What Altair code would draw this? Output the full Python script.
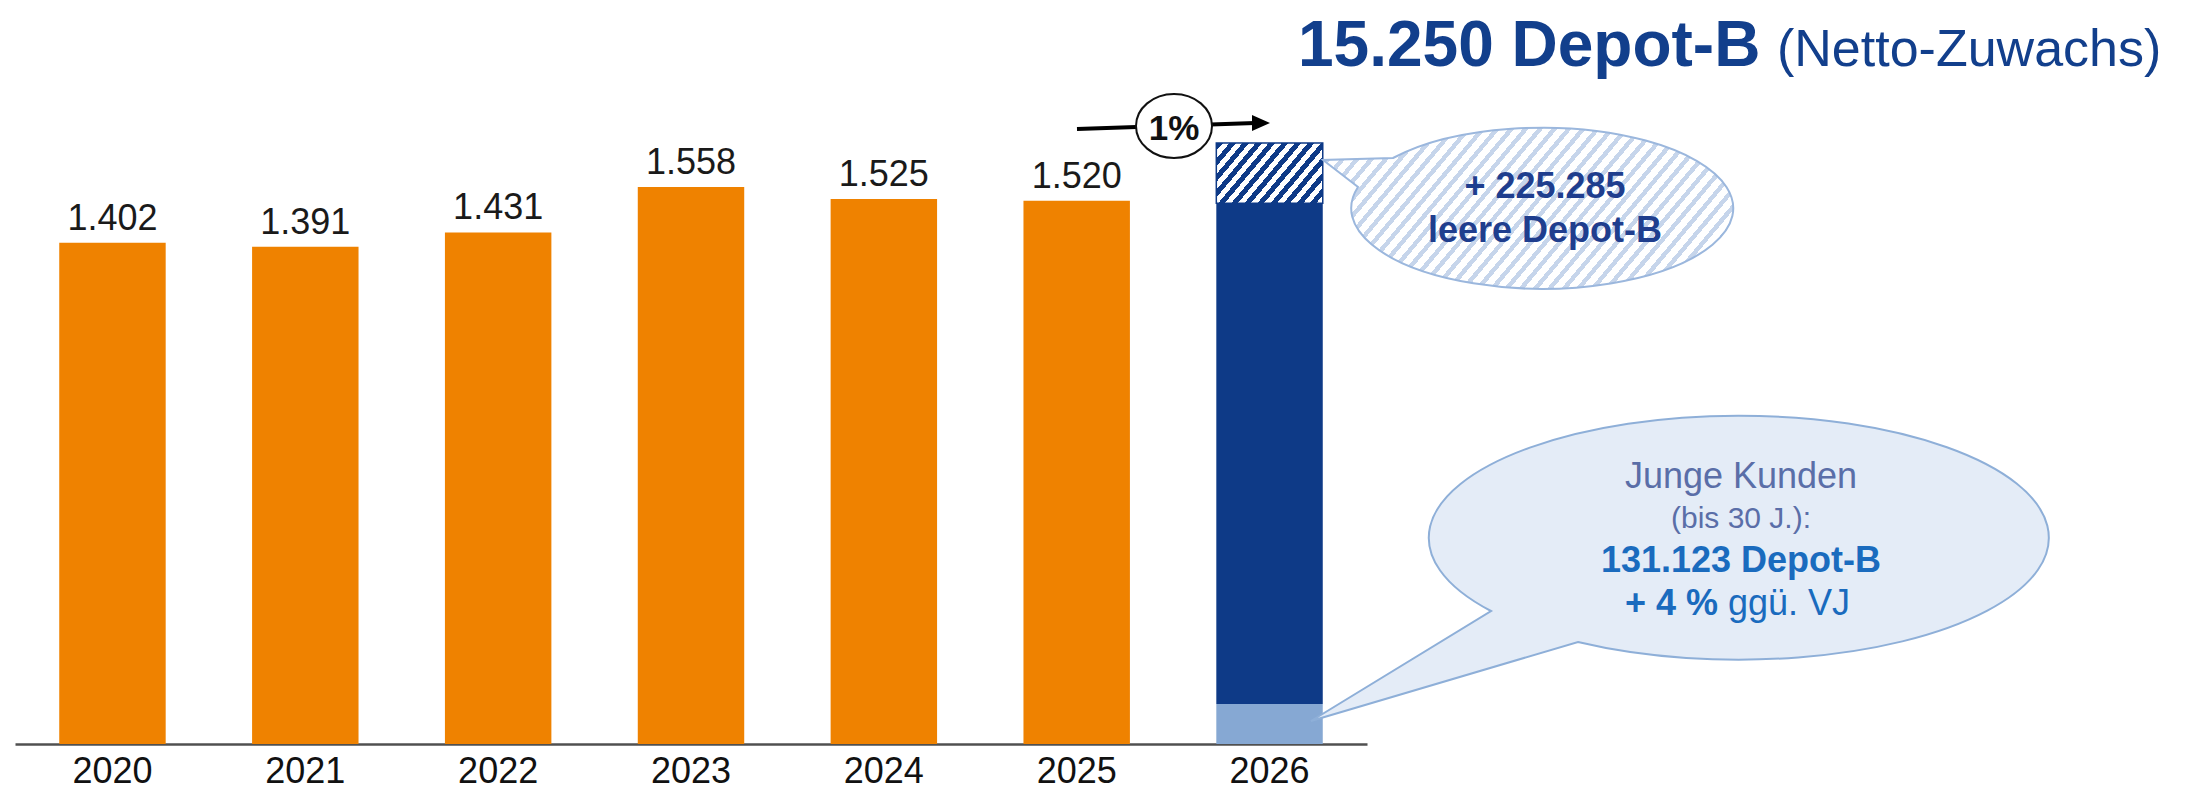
import altair as alt
import pandas as pd

# ---------------- data ----------------
years = ["2020", "2021", "2022", "2023", "2024", "2025", "2026"]
bar_years = ["2020", "2021", "2022", "2023", "2024", "2025"]
bar_values = [1402, 1391, 1431, 1558, 1525, 1520]
bar_labels = ["1.402", "1.391", "1.431", "1.558", "1.525", "1.520"]

seg_year = "2026"
seg_names = ["Junge Kunden", "Depot-B", "leere Depot-B"]
seg_values = [112, 1401, 168]

title_main = "15.250 Depot-B"
title_sub = "(Netto-Zuwachs)"
growth_label = "1%"
upper_lines = ["+ 225.285", "leere Depot-B"]
lower_lines = ["Junge Kunden", "(bis 30 J.):", "131.123 Depot-B"]
lower_last_bold = "+ 4 %"
lower_last_regular = "ggü. VJ"

# ---------------- styles ----------------
FONT = "Liberation Sans, Arial, Helvetica, sans-serif"
ORANGE = "#EF8200"
DARK = "#0E3A87"
LIGHT = "#86A8D3"
TITLE_BLUE = "#123F8C"
UP_TXT = "#1F3E8E"
SLATE = "#5A6EA8"
BRIGHT = "#1A6BBE"

bars = pd.DataFrame({"year": bar_years, "value": bar_values, "label": bar_labels})
lo, hi, acc = [], [], 0
for v in seg_values:
    lo.append(acc)
    acc += v
    hi.append(acc)
segs = pd.DataFrame({"year": [seg_year] * 3, "name": seg_names, "lo": lo, "hi": hi})
one = pd.DataFrame({"a": [0]})

xscale = alt.Scale(domain=years, paddingInner=0.448, paddingOuter=0.2294)
yscale = alt.Scale(domain=[0, 2059])
xaxis = alt.Axis(title=None, labelFont=FONT, labelFontSize=36, labelColor="#111111",
                 labelPadding=10, ticks=False, tickSize=0, domainColor="#505050",
                 domainWidth=2.5, grid=False, labelAngle=0)
X = alt.X("year:N", scale=xscale, axis=xaxis)


def stripes(c1, c2, n, frac):
    stops = []
    for i in range(n):
        a = round(i / n, 5)
        b = round((i + frac) / n, 5)
        c = round((i + 1) / n, 5)
        stops += [{"offset": a, "color": c1}, {"offset": b, "color": c1},
                  {"offset": b, "color": c2}, {"offset": c, "color": c2}]
    return stops


bar_hatch = {"gradient": "linear", "x1": 0, "y1": 0, "x2": 1.2036, "y2": 0.570,
             "stops": stripes(DARK, "#FFFFFF", 12, 0.5)}
bubble_hatch = {"gradient": "linear", "x1": 0, "y1": 0, "x2": 1.199, "y2": 0.394,
                "stops": stripes("#C6D5EB", "#FFFFFF", 38, 0.4)}

# shapes (pixel units, symbol size 4 -> scale 1)
UPPER_BUBBLE = "M -151 -49.5 A 191 80.5 0 1 1 -186 -20.5 L -221 -47.5 Z"
LOWER_BUBBLE = "M -249 74 A 310 122 0 1 1 -162 105 L -429 184 Z"
RING = "M -38 0 A 38 32 0 1 1 38 0 A 38 32 0 1 1 -38 0 Z"
HEAD = "M -18 -8 L 0 0 L -18 8 Z"

# ---------------- layers ----------------
orange = alt.Chart(bars).mark_bar(color=ORANGE, opacity=1).encode(
    x=X, y=alt.Y("value:Q", scale=yscale, axis=None))

labels = alt.Chart(bars).mark_text(dy=-13, baseline="alphabetic", fontSize=36, font=FONT,
                                   color="#1a1a1a").encode(
    x=X, y=alt.Y("value:Q", scale=yscale, axis=None), text="label:N")

stack = alt.Chart(segs).transform_filter(
    alt.FieldOneOfPredicate(field="name", oneOf=seg_names[:2])
).mark_bar(opacity=1).encode(
    x=X, y=alt.Y("lo:Q", scale=yscale, axis=None), y2="hi:Q",
    color=alt.Color("name:N", scale=alt.Scale(domain=seg_names[:2], range=[LIGHT, DARK]), legend=None))

hatch = alt.Chart(segs).transform_filter(
    alt.FieldEqualPredicate(field="name", equal=seg_names[2])
).mark_bar(fill=bar_hatch, stroke=DARK, strokeWidth=1.5, opacity=1).encode(
    x=X, y=alt.Y("lo:Q", scale=yscale, axis=None), y2="hi:Q")

arrow_line = alt.Chart(one).mark_rule(strokeWidth=4, color="#000000").encode(
    x=alt.value(1062), y=alt.value(121), x2=alt.value(1240), y2=alt.value(115))
arrow_head = alt.Chart(one).mark_point(shape=HEAD, size=4, filled=True, fill="#000000",
                                       strokeWidth=0, opacity=1).encode(
    x=alt.value(1255), y=alt.value(115))
ring = alt.Chart(one).mark_point(shape=RING, size=4, filled=True, fill="#FFFFFF",
                                 stroke="#111111", strokeWidth=2, opacity=1).encode(
    x=alt.value(1159), y=alt.value(118))
ring_txt = alt.Chart(one).mark_text(text=growth_label, fontSize=35, fontWeight="bold", font=FONT,
                                    color="#111111", align="center", baseline="alphabetic").encode(
    x=alt.value(1159), y=alt.value(132))

upper_bubble = alt.Chart(one).mark_point(shape=UPPER_BUBBLE, size=4, filled=True, fill=bubble_hatch,
                                         stroke="#9BB7DD", strokeWidth=2, opacity=1).encode(
    x=alt.value(1529), y=alt.value(199.5))
lower_bubble = alt.Chart(one).mark_point(shape=LOWER_BUBBLE, size=4, filled=True, fill="#E4ECF7",
                                         stroke="#8EAFD8", strokeWidth=2, opacity=1).encode(
    x=alt.value(1725), y=alt.value(529))


def txt(s, x, y, size, color, weight="normal", align="center"):
    return alt.Chart(one).mark_text(text=s, fontSize=size, fontWeight=weight, font=FONT, color=color,
                                    align=align, baseline="alphabetic").encode(
        x=alt.value(x), y=alt.value(y))


texts = [
    txt(upper_lines[0], 1530, 190, 36, UP_TXT, "bold"),
    txt(upper_lines[1], 1530, 234, 36, UP_TXT, "bold"),
    txt(lower_lines[0], 1726, 480, 36, SLATE),
    txt(lower_lines[1], 1726, 520, 30, SLATE),
    txt(lower_lines[2], 1726, 564, 36, BRIGHT, "bold"),
    txt(lower_last_bold, 1703, 607, 36, BRIGHT, "bold", "right"),
    txt(lower_last_regular, 1713, 607, 36, BRIGHT, "normal", "left"),
    txt(title_main, 1283, 58, 64, TITLE_BLUE, "bold", "left"),
    txt(title_sub, 1762, 58, 52, TITLE_BLUE, "normal", "left"),
]

chart = alt.layer(
    orange, stack, hatch, labels, arrow_line, arrow_head, ring, ring_txt,
    upper_bubble, lower_bubble, *texts
).properties(
    width=1352, height=736,
    padding={"left": 7, "top": 0, "right": 805, "bottom": 50},
    autosize=alt.AutoSizeParams(type="none"),
    background="#FFFFFF",
).configure_view(stroke=None)

chart.save("out.html", embed_options={"renderer": "svg", "actions": False})
